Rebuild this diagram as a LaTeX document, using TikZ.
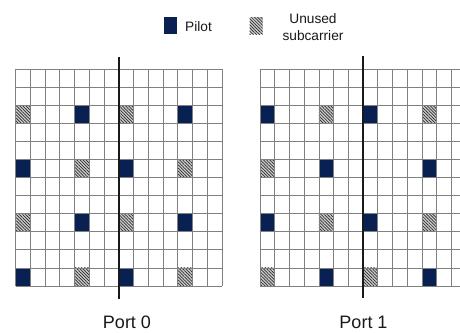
\documentclass[tikz,border=0pt]{standalone}
\usepackage{fontspec}
\setmainfont{Liberation Sans}
\usetikzlibrary{patterns.meta}
\definecolor{pilotblue}{RGB}{8,33,82}
\definecolor{gridgray}{RGB}{128,128,128}
\definecolor{txt}{RGB}{25,25,25}
\tikzset{
  cellgrid/.style={draw=gridgray, line width=0.9pt},
  pilotcell/.style={fill=pilotblue},
  unusedcell/.style={fill=gray!40, postaction={pattern={Lines[angle=-45,distance=2.2pt,line width=0.7pt]}, pattern color=gray!35!black}},
  divider/.style={line width=2pt, draw=black!90},
  portlbl/.style={font=\fontsize{18}{20}\selectfont, text=txt},
  keylbl/.style={font=\fontsize{13.7}{16.5}\selectfont, text=txt, inner sep=0pt},
  keybox/.style={minimum width=13pt, minimum height=17pt, inner sep=0pt}
}
\newcommand{\cw}{14.74}
\newcommand{\rh}{18.06}
\begin{document}
\begin{tikzpicture}[x=1pt,y=-1pt]
\useasboundingbox (0,0) rectangle (460,332);
\clip (0,0) rectangle (460,332);
\fill[white] (0,0) rectangle (460,332);

% Legend
\node[keybox, fill=pilotblue] (pilotkey) at (170.7,25.7) {};
\node[keylbl, anchor=west] (pilotlbl) at (185,26.5) {Pilot};
\node[keybox, unusedcell] (unusedkey) at (256,25.5) {};
\node[keylbl, align=center] (unusedlbl) at (313,27) {Unused\\subcarrier};

% Port 0 grid
\begin{scope}[shift={(15.7,69.3)}]
  \foreach \c/\r in {4/2,11/2,0/5,7/5,4/8,11/8,0/11,7/11}
    \fill[pilotcell] (\c*\cw,\r*\rh) rectangle ++(\cw,\rh);
  \foreach \c/\r in {0/2,7/2,4/5,11/5,0/8,7/8,4/11,11/11}
    \path[unusedcell] (\c*\cw,\r*\rh) rectangle ++(\cw,\rh);
  \foreach \i in {0,...,14}
    \draw[cellgrid] (\i*\cw,0) -- (\i*\cw,12*\rh);
  \foreach \j in {0,...,12}
    \draw[cellgrid] (0,\j*\rh) -- (14*\cw,\j*\rh);
\end{scope}

% Port 1 grid
\begin{scope}[shift={(260,69.3)}]
  \foreach \c/\r in {0/2,7/2,4/5,11/5,0/8,7/8,4/11,11/11}
    \fill[pilotcell] (\c*\cw,\r*\rh) rectangle ++(\cw,\rh);
  \foreach \c/\r in {4/2,11/2,0/5,4/8,11/8,0/11,7/11}
    \path[unusedcell] (\c*\cw,\r*\rh) rectangle ++(\cw,\rh);
  \foreach \i in {0,...,14}
    \draw[cellgrid] (\i*\cw,0) -- (\i*\cw,12*\rh);
  \foreach \j in {0,...,12}
    \draw[cellgrid] (0,\j*\rh) -- (14*\cw,\j*\rh);
\end{scope}

% Dividers
\coordinate (d0top) at (118.9,56.5);
\coordinate (d0bot) at (118.9,299);
\coordinate (d1top) at (363.2,56);
\coordinate (d1bot) at (363.2,298);
\draw[divider] (d0top) -- (d0bot);
\draw[divider] (d1top) -- (d1bot);

% Port labels
\node[portlbl] (port0) at (127,322) {Port 0};
\node[portlbl] (port1) at (363.5,322.5) {Port 1};
\end{tikzpicture}
\end{document}
